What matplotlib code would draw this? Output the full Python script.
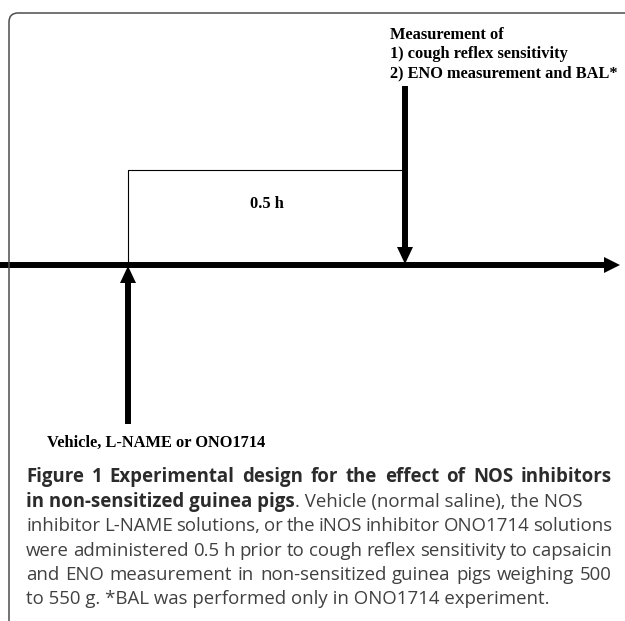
import matplotlib
matplotlib.use("Agg")
import matplotlib.pyplot as plt
from matplotlib.patches import FancyBboxPatch, Polygon
from matplotlib.transforms import Affine2D

# ---------------- data ----------------
event_times = [0.0, 0.5]          # hours: administration, measurement
interval_label = "0.5 h"
start_label = "Vehicle, L-NAME or ONO1714"
measure_lines = ["Measurement of",
                 "1) cough reflex sensitivity",
                 "2) ENO measurement and BAL*"]
caption_lines = [
    [("Figure 1 Experimental design for the effect of NOS inhibitors", "bold")],
    [("in non-sensitized guinea pigs", "bold"), (". Vehicle (normal saline), the NOS", "normal")],
    [("inhibitor L-NAME solutions, or the iNOS inhibitor ONO1714 solutions", "normal")],
    [("were administered 0.5 h prior to cough reflex sensitivity to capsaicin", "normal")],
    [("and ENO measurement in non-sensitized guinea pigs weighing 500", "normal")],
    [("to 550 g. *BAL was performed only in ONO1714 experiment.", "normal")],
]
justified = [True, False, True, True, True, False]

# ---------------- layout ----------------
W, H, DPI = 625, 621, 100
fig = plt.figure(figsize=(W / DPI, H / DPI), dpi=DPI)
ax = fig.add_axes([0, 0, 1, 1])
px_per_h = 554.0
x_origin = 128.0
ax.set_xlim(-x_origin / px_per_h, (W - x_origin) / px_per_h)
ax.set_ylim(H, 0)
ax.axis("off")

# pixel transform (top-left origin)
pix = Affine2D().scale(1, -1).translate(0, H)

def hx(px):  # pixel width -> hours
    return px / px_per_h

# frame with rounded corner
frame = FancyBboxPatch((9, 13), 700, 700, boxstyle="round,pad=0,rounding_size=9",
                       transform=pix, fill=False, edgecolor="#4d4d4d", lw=1.1)
fig.add_artist(frame)

t0, t1 = event_times
y_line = 265
shaft_lw = 4.3
head_len = 16
head_half = 8

# timeline
x_end = ax.get_xlim()[1] - hx(5)
ax.plot([ax.get_xlim()[0], x_end - hx(head_len)], [y_line, y_line], color="black",
        lw=shaft_lw, solid_capstyle="butt")
ax.add_patch(Polygon([[x_end - hx(head_len), y_line - head_half], [x_end, y_line],
                      [x_end - hx(head_len), y_line + head_half]], closed=True,
                     color="black", lw=0))

# up arrow at administration
ax.plot([t0, t0], [424, y_line + 2 + head_len], color="black", lw=shaft_lw, solid_capstyle="butt")
ax.add_patch(Polygon([[t0 - hx(head_half), y_line + 2 + head_len], [t0, y_line + 1],
                      [t0 + hx(head_half), y_line + 2 + head_len]], closed=True, color="black", lw=0))

# down arrow at measurement
ax.plot([t1, t1], [86, y_line - 2 - head_len], color="black", lw=shaft_lw, solid_capstyle="butt")
ax.add_patch(Polygon([[t1 - hx(head_half), y_line - 2 - head_len], [t1, y_line - 1],
                      [t1 + hx(head_half), y_line - 2 - head_len]], closed=True, color="black", lw=0))

# thin interval bracket
ax.plot([t0, t0, t1], [y_line, 170, 170], color="black", lw=0.8)
ax.text((t0 + t1) / 2, 204, interval_label, ha="center", va="center",
        family="Liberation Serif", weight="bold", fontsize=11.8)

serif = dict(family="Liberation Serif", weight="bold", fontsize=11.8, color="black")
for i, s in enumerate(measure_lines):
    ax.text(t1 - hx(15), 35 + 19 * i, s, ha="left", va="center", **serif)
ax.text(t0 - hx(81), 443, start_label, ha="left", va="center", **serif)

# ---------------- caption ----------------
cap_x, cap_right = 26, 612
cap_y0, cap_dy = 476, 24.5
cap_fs = 13.4
colors = {"bold": "#2b2b2b", "normal": "#404040"}
renderer = fig.canvas.get_renderer()

def width_of(txt):
    return txt.get_window_extent(renderer).width

for li, (segs, just) in enumerate(zip(caption_lines, justified)):
    y = cap_y0 + cap_dy * li + 6
    if just:
        (s, wgt), = segs
        words = s.split(" ")
        objs = [fig.text(0, 0, w, transform=pix, ha="left", va="baseline",
                         family="Open Sans", weight=wgt, fontsize=cap_fs, color=colors[wgt])
                for w in words]
        widths = [width_of(o) for o in objs]
        gap = (cap_right - cap_x - sum(widths)) / (len(words) - 1)
        x = cap_x
        for o, wd in zip(objs, widths):
            o.set_position((x, y))
            x += wd + gap
    else:
        x = cap_x
        for s, wgt in segs:
            o = fig.text(x, y, s, transform=pix, ha="left", va="baseline",
                         family="Open Sans", weight=wgt, fontsize=cap_fs, color=colors[wgt])
            x += width_of(o)

fig.savefig("out.png", dpi=DPI, facecolor="white")
